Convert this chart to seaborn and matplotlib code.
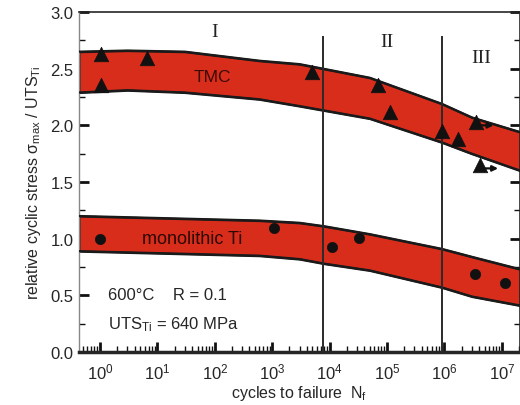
import numpy as np
import pandas as pd
import matplotlib
matplotlib.use("Agg")
import matplotlib.pyplot as plt
import matplotlib.ticker as mticker
import seaborn as sns

# ---------------- data ----------------
band_tmc_n = [0.43, 3, 30, 600, 3000, 5e4, 9e5, 3e6, 2.1e7]
band_tmc_hi = [2.65, 2.66, 2.65, 2.57, 2.54, 2.42, 2.19, 2.07, 1.94]
band_tmc_lo = [2.29, 2.31, 2.29, 2.23, 2.17, 2.06, 1.85, 1.75, 1.60]

band_ti_n = [0.43, 600, 3000, 8000, 5e4, 9e5, 3e6, 2.1e7]
band_ti_hi = [1.20, 1.16, 1.14, 1.11, 1.04, 0.91, 0.84, 0.73]
band_ti_lo = [0.89, 0.85, 0.82, 0.78, 0.72, 0.57, 0.49, 0.41]

tmc_n = [1.05, 1.05, 6.6, 5.0e3, 6.9e4, 1.12e5, 9.1e5, 1.75e6, 3.5e6, 4.2e6]
tmc_s = [2.63, 2.36, 2.59, 2.47, 2.36, 2.12, 1.95, 1.88, 2.03, 1.65]

runout_n = [3.5e6, 4.2e6]
runout_s = [2.00, 1.62]

ti_n = [1.0, 1.07e3, 1.1e4, 3.2e4, 3.4e6, 1.15e7]
ti_s = [1.00, 1.09, 0.93, 1.01, 0.69, 0.61]

region_bounds = [7.7e3, 9.0e5]
region_labels = ["I", "II", "III"]
region_label_n = [100, 1.0e5, 4.4e6]
region_label_y = [2.83, 2.74, 2.60]

x_major_ticks = [1e0, 1e1, 1e2, 1e3, 1e4, 1e5, 1e6, 1e7]

# ---------------- style ----------------
sns.set_style("ticks")
plt.rcParams["font.family"] = ["Liberation Sans", "DejaVu Sans"]
plt.rcParams["mathtext.fontset"] = "custom"
plt.rcParams["mathtext.rm"] = "Liberation Sans"
plt.rcParams["mathtext.it"] = "Liberation Sans:italic"
plt.rcParams["mathtext.bf"] = "Liberation Sans:bold"

RED = "#d92d1c"
EDGE = "#1a1a1a"

fig = plt.figure(figsize=(5.2, 4.06), dpi=100)
ax = fig.add_axes([79 / 520, 1 - 353 / 406, 441 / 520, 340 / 406])
ax.set_xscale("log")
ax.set_xlim(10 ** -0.366, 10 ** 7.317)
ax.set_ylim(0, 3.0)

# bands
ax.fill_between(band_tmc_n, band_tmc_lo, band_tmc_hi, facecolor=RED,
                edgecolor=EDGE, linewidth=1.6, zorder=2)
ax.fill_between(band_ti_n, band_ti_lo, band_ti_hi, facecolor=RED,
                edgecolor=EDGE, linewidth=1.6, zorder=2)
for nn, yy in [(band_tmc_n, band_tmc_hi), (band_tmc_n, band_tmc_lo),
               (band_ti_n, band_ti_hi), (band_ti_n, band_ti_lo)]:
    sns.lineplot(x=nn, y=yy, ax=ax, color=EDGE, linewidth=1.6,
                 estimator=None, sort=False, zorder=3)

# region boundaries
ax.vlines(region_bounds, 0, 2.79, color="#2a2a2a", linewidth=1.4, zorder=4)
for lab, xn, yv in zip(region_labels, region_label_n, region_label_y):
    ax.text(xn, yv, lab, family=["Liberation Serif", "DejaVu Serif"],
            fontsize=14, ha="center", va="center", color="#222222")

# data points
sns.scatterplot(x=tmc_n, y=tmc_s, ax=ax, marker="^", s=110, color="#111111",
                edgecolor="#111111", linewidth=0.5, zorder=5)
sns.scatterplot(x=ti_n, y=ti_s, ax=ax, marker="o", s=55, color="#111111",
                edgecolor="#111111", linewidth=0.5, zorder=5)
for xn, yv in zip(runout_n, runout_s):
    ax.annotate("", xy=(xn * 2.05, yv), xytext=(xn, yv),
                arrowprops=dict(arrowstyle="-|>", color="#111111", lw=1.6,
                                mutation_scale=8, shrinkA=0, shrinkB=0),
                zorder=6)

# band labels
ax.text(90, 2.43, "TMC", fontsize=12.5, ha="center", va="center",
        color="#3a0a05", zorder=6)
ax.text(40, 1.00, "monolithic Ti", fontsize=13, ha="center", va="center",
        color="#2a0804", zorder=6)

ax.text(1.4, 0.51, "600°C    R = 0.1", fontsize=12, ha="left", va="center")
ax.text(1.4, 0.25, "UTS$_{\\mathrm{Ti}}$ = 640 MPa", fontsize=12, ha="left",
        va="center")

# axes formatting
ax.set_xlabel("cycles to failure  N$_{\\mathrm{f}}$", fontsize=11.5, labelpad=1)
ax.set_ylabel("relative cyclic stress σ$_{\\mathrm{max}}$ / UTS$_{\\mathrm{Ti}}$",
              fontsize=11.5, labelpad=5)
ax.xaxis.set_major_locator(mticker.FixedLocator(x_major_ticks))
ax.xaxis.set_major_formatter(mticker.LogFormatterSciNotation(base=10))
ax.xaxis.set_minor_locator(mticker.LogLocator(base=10, subs=np.arange(2, 10),
                                              numticks=12))
ax.xaxis.set_minor_formatter(mticker.NullFormatter())
ax.yaxis.set_major_locator(mticker.MultipleLocator(0.5))
ax.yaxis.set_minor_locator(mticker.MultipleLocator(0.25))
ax.yaxis.set_major_formatter(mticker.FormatStrFormatter("%.1f"))

ax.tick_params(axis="both", which="major", direction="in", length=7, width=2,
               labelsize=12, color="#111111", pad=4)
ax.tick_params(axis="x", which="major", pad=7)
ax.tick_params(axis="both", which="minor", direction="in", length=4, width=1,
               color="#111111")
ax.tick_params(axis="y", which="both", right=True, left=True)
ax.tick_params(axis="x", which="both", top=False)

ax.spines["bottom"].set_linewidth(2.5)
ax.spines["left"].set_linewidth(1.0)
ax.spines["left"].set_color("#888888")
ax.spines["top"].set_linewidth(1.2)
ax.spines["right"].set_linewidth(1.2)
for s in ax.spines.values():
    s.set_visible(True)

fig.savefig("out.png", dpi=100)
